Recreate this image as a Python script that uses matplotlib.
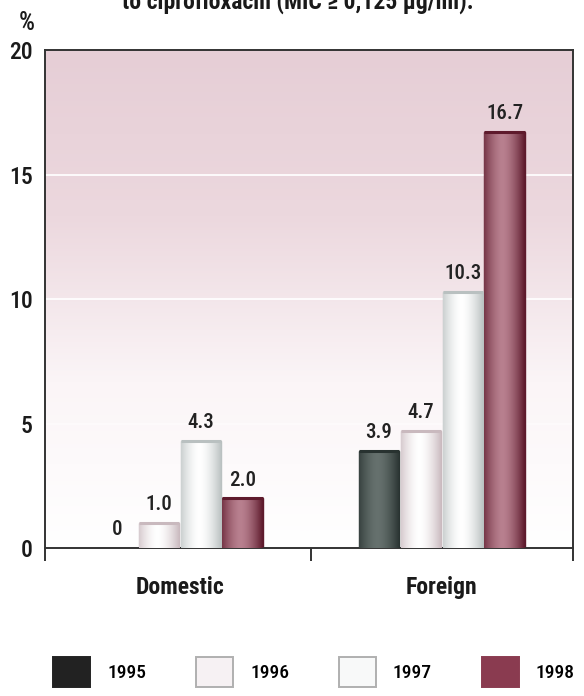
import numpy as np
import matplotlib
matplotlib.use("Agg")
import matplotlib.pyplot as plt
from matplotlib.patches import Patch
from matplotlib.colors import LinearSegmentedColormap

# resistance to ciprofloxacin, % of isolates
categories = ["Domestic", "Foreign"]
years = ["1995", "1996", "1997", "1998"]
values = {
    "1995": [0.0, 3.9],
    "1996": [1.0, 4.7],
    "1997": [4.3, 10.3],
    "1998": [2.0, 16.7],
}
value_labels = {
    "1995": ["0", "3.9"],
    "1996": ["1.0", "4.7"],
    "1997": ["4.3", "10.3"],
    "1998": ["2.0", "16.7"],
}
yticks = [0, 5, 10, 15, 20]

# edge / center colours for the cylinder shading of each series
shades = {
    "1995": ("#283230", "#66716e"),
    "1996": ("#c9b9be", "#ffffff"),
    "1997": ("#b9c0c0", "#ffffff"),
    "1998": ("#5e1a2c", "#b8808f"),
}
legend_colors = {"1995": "#222222", "1996": "#f6f1f3", "1997": "#f8f9f9", "1998": "#8a3b50"}

plt.rcParams["font.family"] = ["Roboto Condensed", "DejaVu Sans"]
plt.rcParams["font.weight"] = 500

fig = plt.figure(figsize=(5.84, 6.96), dpi=100)
ax = fig.add_axes([0.077, 0.2126, 0.904, 0.7155])

xlim = (-0.515, 1.5)
ylim = (0, 20)
ax.set_xlim(*xlim)
ax.set_ylim(*ylim)

# background: mauve at the top fading to white lower down
bg_cmap = LinearSegmentedColormap.from_list("bg", ["#ffffff", "#fbf5f7", "#ecd8de", "#e6ced6"])
grad = np.linspace(0, 1, 256).reshape(-1, 1)
ax.imshow(grad, cmap=bg_cmap, aspect="auto", extent=(*xlim, *ylim),
          origin="lower", zorder=0, interpolation="bicubic")

for g in [5, 10, 15]:
    ax.axhline(g, color="white", lw=1.4, alpha=0.9 if g > 5 else 0.4, zorder=1)

width = 0.16
offsets = np.array([-1.5, -0.5, 0.5, 1.5]) * width
x = np.arange(len(categories))
xs_grad = np.linspace(0, 1, 64)
cyl = np.abs(xs_grad - 0.45) * 2  # 0 at highlight, 1 at edges

for i, yr in enumerate(years):
    edge, center = shades[yr]
    cm = LinearSegmentedColormap.from_list(yr, [center, edge])
    bars = ax.bar(x + offsets[i], values[yr], width=width * 0.97,
                  color=center, edgecolor=edge, linewidth=1.0, zorder=2)
    for bar, lab in zip(bars, value_labels[yr]):
        h = bar.get_height()
        if h > 0:
            im = ax.imshow(cyl.reshape(1, -1) ** 1.6, cmap=cm, aspect="auto",
                           extent=(bar.get_x(), bar.get_x() + bar.get_width(), 0, h),
                           zorder=3, interpolation="bicubic")
            im.set_clip_path(bar)
            # dark rim at the top of each bar
            ax.plot([bar.get_x(), bar.get_x() + bar.get_width()], [h, h],
                    color=edge, lw=2.2, zorder=4, solid_capstyle="butt")
        ax.text(bar.get_x() + bar.get_width() / 2, h + 0.35, lab,
                ha="center", va="bottom", fontsize=15, color="#222222", zorder=5)

ax.set_xlim(*xlim)
ax.set_ylim(*ylim)

for s in ax.spines.values():
    s.set_color("#333333")
    s.set_linewidth(1.4)

ax.set_yticks(yticks)
ax.tick_params(axis="y", length=0, pad=9, labelsize=17, labelcolor="#1a1a1a")
ax.set_xticks(x)
ax.set_xticklabels(categories, fontsize=17, fontweight="bold", color="#1a1a1a")
ax.tick_params(axis="x", which="major", length=0, pad=20)
ax.set_xticks([xlim[0], 0.5, xlim[1]], minor=True)
ax.tick_params(axis="x", which="minor", length=9, width=1.4, color="#333333", direction="out")

fig.text(0.046, 0.967, "%", ha="center", va="center", fontsize=18, color="#1a1a1a")
fig.text(0.51, 0.998, "to ciprofloxacin (MIC \u2265 0,125 \u00b5g/ml).", ha="center",
         va="center", fontsize=17, fontweight="bold", color="#1a1a1a")

handles = [Patch(facecolor=legend_colors[yr],
                 edgecolor="#b0b0b0" if yr in ("1996", "1997") else legend_colors[yr],
                 linewidth=1.4) for yr in years]
fig.legend(handles, years, loc="center", bbox_to_anchor=(0.538, 0.0345), ncol=4,
           frameon=False, fontsize=14, handlelength=1.9, handleheight=2.0,
           handletextpad=0.87, columnspacing=2.57)

fig.savefig("out.png", dpi=100)
